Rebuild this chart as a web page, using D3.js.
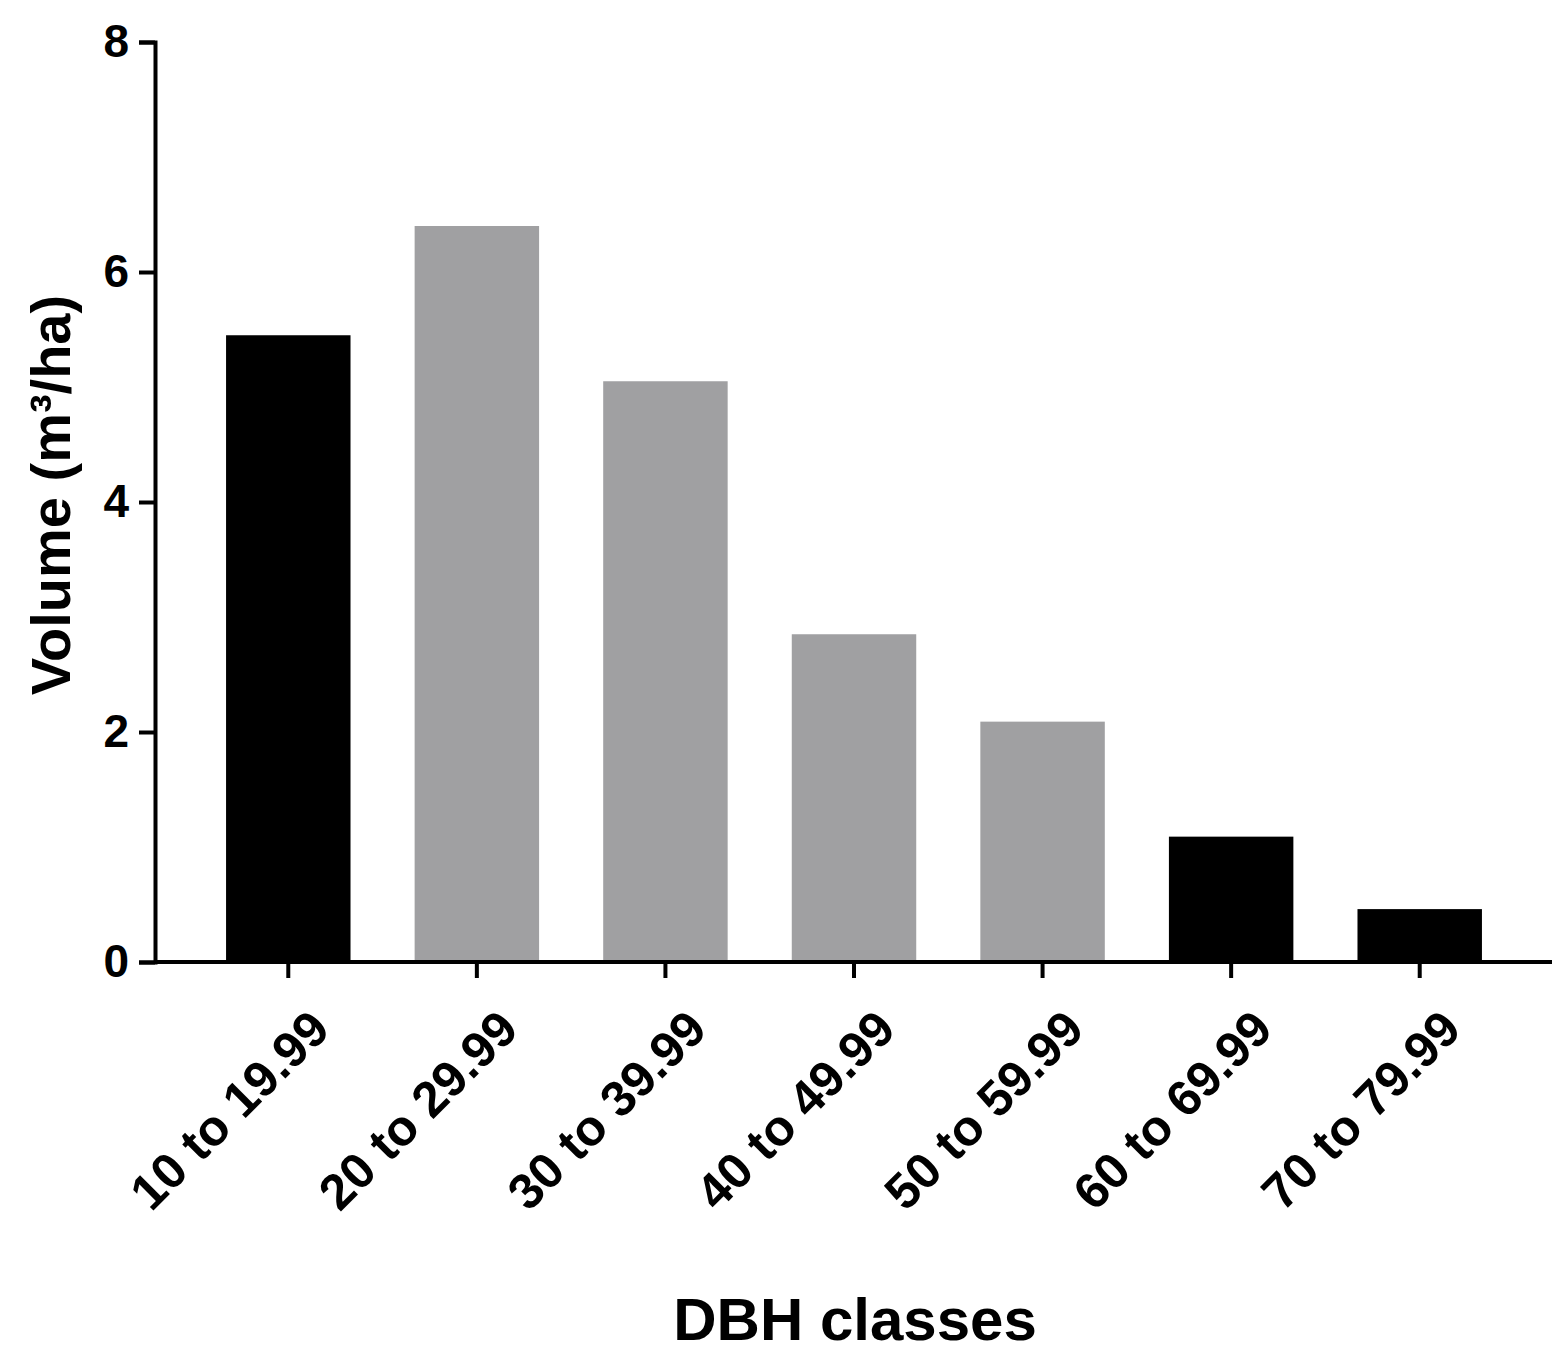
<!DOCTYPE html>
<html>
<head>
<meta charset="utf-8">
<script src="https://cdn.jsdelivr.net/npm/d3@7"></script>
<style>
  body { margin: 0; background: #fff; }
  text { font-family: "Liberation Sans", Arial, sans-serif; font-weight: bold; }
</style>
</head>
<body>
<script>
// Chart data
var classes = ['10 to 19.99', '20 to 29.99', '30 to 39.99', '40 to 49.99',
  '50 to 59.99', '60 to 69.99', '70 to 79.99'];
var volumes = [5.45, 6.4, 5.05, 2.85, 2.09, 1.09, 0.46];
var barColors = ['#000000', '#a0a0a2', '#a0a0a2', '#a0a0a2', '#a0a0a2', '#000000', '#000000'];
var yTicks = [0, 2, 4, 6, 8];

var svg = d3.select('body').append('svg')
  .attr('width', 1568)
  .attr('height', 1364);

// Scales
var x = d3.scaleBand().domain(classes).range([194, 1514])
  .paddingInner(0.34).paddingOuter(0.17);
var y = d3.scaleLinear().domain([0, 8]).range([962, 42]);

// Bars
svg.selectAll('rect.bar')
  .data(classes)
  .enter()
  .append('rect')
  .attr('class', 'bar')
  .attr('x', function (d) { return x(d); })
  .attr('width', x.bandwidth())
  .attr('y', function (d, i) { return y(volumes[i]); })
  .attr('height', function (d, i) { return y(0) - y(volumes[i]); })
  .attr('fill', function (d, i) { return barColors[i]; });

// Y axis
var yAxis = svg.append('g')
  .attr('transform', 'translate(155,0)')
  .call(d3.axisLeft(y).tickValues(yTicks).tickSize(16).tickPadding(10));
yAxis.selectAll('path, line').attr('stroke', '#000').attr('stroke-width', 4);
yAxis.selectAll('text').style('font-size', '46px').attr('fill', '#000');

// X axis
var xAxis = svg.append('g')
  .attr('transform', 'translate(0,962)')
  .call(d3.axisBottom(x).tickSize(16).tickSizeOuter(0));
xAxis.select('path').attr('d', 'M155,0H1552');
xAxis.selectAll('path, line').attr('stroke', '#000').attr('stroke-width', 4);
xAxis.selectAll('text')
  .style('font-size', '50px')
  .attr('fill', '#000')
  .attr('text-anchor', 'end')
  .attr('dy', '0.35em')
  .attr('transform', 'translate(18,44) rotate(-45)');

// Axis titles
svg.append('text')
  .attr('transform', 'translate(70,495) rotate(-90)')
  .attr('text-anchor', 'middle')
  .style('font-size', '56px')
  .text('Volume (m³/ha)');

svg.append('text')
  .attr('x', 855)
  .attr('y', 1340)
  .attr('text-anchor', 'middle')
  .style('font-size', '60px')
  .text('DBH classes');
</script>
</body>
</html>
